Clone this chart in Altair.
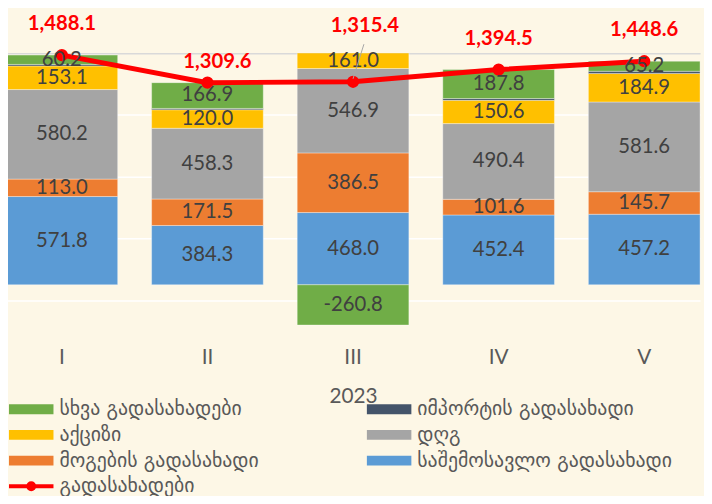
import altair as alt
import pandas as pd

# ---------------- data ----------------
categories = ["I", "II", "III", "IV", "V"]
income_tax = [571.8, 384.3, 468.0, 452.4, 457.2]
profit_tax = [113.0, 171.5, 386.5, 101.6, 145.7]
vat = [580.2, 458.3, 546.9, 490.4, 581.6]
excise = [153.1, 120.0, 161.0, 150.6, 184.9]
import_tax = [9.8, 8.6, 13.8, 11.7, 14.0]
other_taxes = [60.2, 166.9, -260.8, 187.8, 65.2]
total_taxes = [1488.1, 1309.6, 1315.4, 1394.5, 1448.6]

# stacking order: bottom -> top
series_names = [
    "საშემოსავლო გადასახადი",
    "მოგების გადასახადი",
    "დღგ",
    "აქციზი",
    "იმპორტის გადასახადი",
    "სხვა გადასახადები",
]
series_colors = ["#5B9BD5", "#ED7D31", "#A5A5A5", "#FFC000", "#44546A", "#70AD47"]
line_name = "გადასახადები"
x_title = "2023"

# legend order (filled column by column)
legend_index = [5, 3, 1, 4, 2, 0]

# manual label nudges (pixels) for the total labels, as in the original
label_dx = [0, 10, 12, 0, 0]
label_dy = [-31, -21, -56, -31, -32]

# ---------------- tables ----------------
series_values = [income_tax, profit_tax, vat, excise, import_tax, other_taxes]
rows = []
for si, (name, vals) in enumerate(zip(series_names, series_values)):
    for ci, cat in enumerate(categories):
        rows.append({"cat": cat, "series": name, "value": vals[ci], "order": si,
                     "label": f"{vals[ci]:.1f}", "show": name != "იმპორტის გადასახადი"})
bar_df = pd.DataFrame(rows)

line_df = pd.DataFrame({
    "cat": categories,
    "total": total_taxes,
    "series": [line_name] * len(categories),
    "tlabel": [f"{v:,.1f}" for v in total_taxes],
    "ldx": label_dx,
    "ldy": label_dy,
})

legend_names = [series_names[i] for i in legend_index]
legend_colors = [series_colors[i] for i in legend_index]

YMIN, YMAX = -300, 1500
yscale = alt.Scale(domain=[YMIN, YMAX], nice=False, zero=False)
xscale = alt.Scale(domain=categories, range=[-2, 700], paddingInner=0.233, paddingOuter=0)

NUM_FONT = "Lato"
GEO_FONT = "DejaVu Sans"

RECT_SYMBOL = "M-4.5,-1H4.5V1H-4.5Z"
LINE_SYMBOL = "M-4.5,0H4.5M-0.6,0A0.6,0.6 0 1,0 0.6,0A0.6,0.6 0 1,0 -0.6,0Z"

x_enc = alt.X("cat:N", scale=xscale, sort=categories,
              axis=alt.Axis(title=x_title, labelAngle=0, domain=False, ticks=False, tickSize=0,
                            grid=False, labelFont=NUM_FONT, labelFontSize=21, labelColor="#595959",
                            labelPadding=16, titleFont=NUM_FONT, titleFontSize=21,
                            titleFontWeight="normal", titleColor="#595959", titlePadding=18))

stacked = alt.Chart(bar_df).transform_stack(
    stack="value", as_=["y0", "y1"], groupby=["cat"], sort=[alt.SortField("order", "ascending")]
)

bars = stacked.mark_bar(clip=True, stroke="#FFFFFF", strokeWidth=0.6, strokeOpacity=0.6).encode(
    x=x_enc,
    y=alt.Y("y0:Q", scale=yscale,
            axis=alt.Axis(values=list(range(-100, 1501, 200)), labels=False, ticks=False, domain=False,
                          title=None, grid=True, gridWidth=1.5,
                          gridColor=alt.condition("datum.value == 1500", alt.value("#D9D9D9"), alt.value("#FFFFFF")))),
    y2="y1:Q",
    color=alt.Color("series:N", scale=alt.Scale(domain=legend_names, range=legend_colors),
                    legend=alt.Legend(title=None, orient="none", legendX=13.5, legendY=350, columns=2,
                                      symbolType=RECT_SYMBOL, symbolSize=100,
                                      symbolStrokeWidth=0, labelFont=GEO_FONT, labelFontSize=20,
                                      labelColor="#595959", labelLimit=0, labelOffset=18.5,
                                      rowPadding=6, columnPadding=108, padding=0)),
)

bar_labels = stacked.transform_filter("datum.show").transform_calculate(
    mid=f"(max(min(datum.y0, datum.y1), {YMIN}) + min(max(datum.y0, datum.y1), {YMAX})) / 2"
).mark_text(font=NUM_FONT, fontSize=20.5, color="#404040", baseline="middle").encode(
    x=alt.X("cat:N", scale=xscale, sort=categories),
    y=alt.Y("mid:Q", scale=yscale),
    text="label:N",
)

line = alt.Chart(line_df).mark_line(strokeWidth=5).encode(
    x=alt.X("cat:N", scale=xscale, sort=categories),
    y=alt.Y("total:Q", scale=yscale),
    stroke=alt.Stroke("series:N", scale=alt.Scale(domain=[line_name], range=["#FF0000"]),
                      legend=alt.Legend(title=None, orient="none", legendX=13.5, legendY=428,
                                        symbolType=LINE_SYMBOL,
                                        symbolSize=100, symbolStrokeWidth=4, symbolFillColor="#FF0000",
                                        symbolStrokeColor="#FF0000",
                                        labelFont=GEO_FONT, labelFontSize=20, labelColor="#595959",
                                        labelLimit=0, labelOffset=18.5, padding=0)),
)

points = alt.Chart(line_df).mark_circle(size=154, color="#FF0000", opacity=1).encode(
    x=alt.X("cat:N", scale=xscale, sort=categories),
    y=alt.Y("total:Q", scale=yscale),
)

total_labels = alt.Chart(line_df).mark_text(
    font=NUM_FONT, fontSize=20.5, fontWeight="bold", color="#FF0000", baseline="middle",
    dx={"expr": "datum.ldx"}, dy={"expr": "datum.ldy"},
).encode(
    x=alt.X("cat:N", scale=xscale, sort=categories),
    y=alt.Y("total:Q", scale=yscale),
    text="tlabel:N",
)

leader = alt.Chart(line_df).transform_filter("datum.cat == 'III'").mark_rule(
    color="#A6A6A6", strokeWidth=1, xOffset=11, x2Offset=0, yOffset=-38, y2Offset=-3
).encode(
    x=alt.X("cat:N", scale=xscale, sort=categories),
    x2="cat:N",
    y=alt.Y("total:Q", scale=yscale),
    y2="total:Q",
)

chart = alt.layer(bars, line, points, bar_labels, total_labels, leader).properties(
    width=702, height=281,
    autosize=alt.AutoSizeParams(type="none"),
    padding={"left": 0, "top": 43, "right": 2, "bottom": 164},
    background="#FDF7E6",
).resolve_scale(color="independent").configure_view(stroke=None)

chart.save("out.html", embed_options={"renderer": "svg", "actions": False})
